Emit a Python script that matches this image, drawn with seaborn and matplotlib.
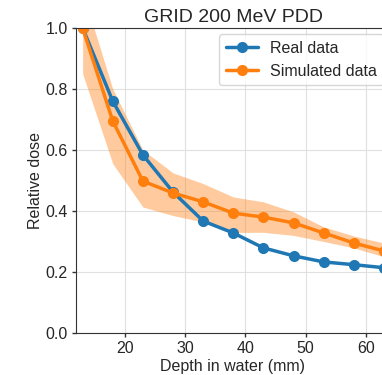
import numpy as np
import pandas as pd
import matplotlib
matplotlib.use("Agg")
import matplotlib.pyplot as plt
import seaborn as sns

# depths (mm)
depth = [13, 18, 23, 28, 33, 38, 43, 48, 53, 58, 63]

# measured relative dose
real_dose = [1.0, 0.76, 0.584, 0.462, 0.367, 0.328, 0.279, 0.253, 0.233, 0.224, 0.214]

# simulated relative dose + uncertainty band
sim_dose = [1.0, 0.695, 0.498, 0.459, 0.43, 0.393, 0.38, 0.361, 0.328, 0.295, 0.269]
sim_low = [0.85, 0.555, 0.413, 0.385, 0.364, 0.33, 0.33, 0.32, 0.30, 0.279, 0.25]
sim_high = [1.12, 0.80, 0.60, 0.525, 0.49, 0.446, 0.43, 0.397, 0.348, 0.318, 0.295]

sns.set_style("whitegrid", {"axes.edgecolor": "0.2", "ytick.left": True,
                            "xtick.bottom": True, "grid.color": "0.88"})
plt.rcParams['font.family'] = ['Liberation Sans', 'DejaVu Sans']

fig = plt.figure(figsize=(3.82, 3.75), dpi=100)
ax = fig.add_axes([76 / 382, 42 / 375, 314 / 382, 305 / 375])

df = pd.DataFrame({"depth": depth, "real": real_dose, "sim": sim_dose})

ax.fill_between(depth, sim_low, sim_high, color="#ff7f0e", alpha=0.4, lw=0)
sns.lineplot(data=df, x="depth", y="real", marker="o", markersize=8,
             markeredgewidth=0, lw=2.5, color="#1f77b4", label="Real data", ax=ax)
sns.lineplot(data=df, x="depth", y="sim", marker="o", markersize=8,
             markeredgewidth=0, lw=2.5, color="#ff7f0e", label="Simulated data", ax=ax)

ax.set_xlim(11.9, 64)
ax.set_ylim(0, 1.0)
ax.set_xticks([20, 30, 40, 50, 60])
ax.set_yticks([0.0, 0.2, 0.4, 0.6, 0.8, 1.0])
ax.tick_params(axis="both", length=3, width=1, color="0.2", labelsize=11.5, pad=3)
ax.set_title("GRID 200 MeV PDD", fontsize=14, pad=4)
ax.set_xlabel("Depth in water (mm)", fontsize=11.5, labelpad=2)
ax.set_ylabel("Relative dose", fontsize=11.5, labelpad=1.5)
ax.legend(loc="upper right", fontsize=11.5, borderaxespad=0.4)

fig.savefig("out.png", dpi=100)
